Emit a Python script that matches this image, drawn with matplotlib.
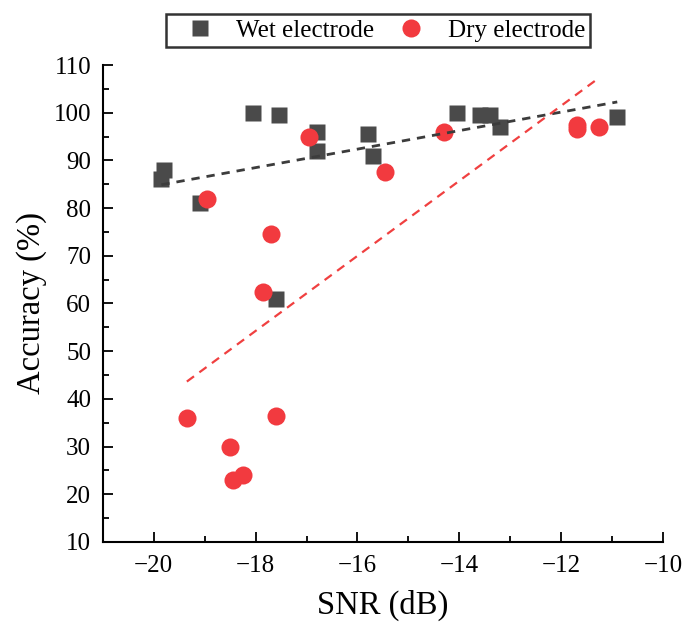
import numpy as np
import matplotlib
matplotlib.use('Agg')
import matplotlib.pyplot as plt

# SNR vs accuracy for the two electrode types
wet_snr = [-19.85, -19.8, -19.1, -18.05, -17.55, -16.8, -16.8, -15.8, -15.7,
           -14.05, -13.6, -13.4, -13.2, -10.9, -17.6]
wet_acc = [86, 88, 81, 100, 99.5, 96, 92, 95.5, 91, 100, 99.5, 99.5, 97, 99, 61]

dry_snr = [-18.95, -16.95, -15.45, -17.7, -17.85, -19.35, -17.6, -18.5, -18.45,
           -18.25, -14.3, -11.7, -11.7, -11.25]
dry_acc = [82, 95, 87.5, 74.5, 62.5, 36, 36.5, 30, 23, 24, 96, 96.5, 97.5, 97]

# linear fit (slope, intercept) for each group
wet_fit = [1.94, 123.4]
dry_fit = [7.87, 195.9]

plt.rcParams['font.family'] = ['Liberation Serif', 'DejaVu Serif']

fig = plt.figure(figsize=(6.9, 6.25), dpi=100)
ax = fig.add_axes([0.149, 0.133, 0.812, 0.763])

wet_col = '#4a4a4a'
dry_col = '#f23a3f'

ax.plot(wet_snr, wet_acc, 's', color=wet_col, markersize=11, mec='none', label='Wet electrode')
ax.plot(dry_snr, dry_acc, 'o', color=dry_col, markersize=13, mec='none', label='Dry electrode')

xw = np.array([min(wet_snr), max(wet_snr)])
ax.plot(xw, wet_fit[0] * xw + wet_fit[1], color='#3c3c3c', lw=2, dashes=(3, 2.5))
xd = np.array([min(dry_snr), max(dry_snr)])
ax.plot(xd, dry_fit[0] * xd + dry_fit[1], color='#f04040', lw=1.6, dashes=(4, 3))

ax.set_xlim(-21, -10)
ax.set_ylim(10, 110)
ax.set_xticks([-20, -18, -16, -14, -12, -10])
ax.set_xticks(np.arange(-21, -9, 1), minor=True)
ax.set_yticks(np.arange(10, 111, 10))
ax.set_yticks(np.arange(15, 110, 10), minor=True)
ax.tick_params(which='major', direction='in', length=7, width=1.3, labelsize=18)
ax.tick_params(which='minor', direction='in', length=4, width=1.3)
ax.tick_params(axis='x', which='major', pad=9.5)
ax.tick_params(axis='y', which='major', pad=8.5)
ax.spines['top'].set_visible(False)
ax.spines['right'].set_visible(False)
ax.spines['left'].set_linewidth(1.5)
ax.spines['bottom'].set_linewidth(1.5)

ax.set_xlabel('SNR (dB)', fontsize=23.5, labelpad=9)
ax.set_ylabel('Accuracy (%)', fontsize=23.5, labelpad=4.5)

leg = ax.legend(loc='lower center', bbox_to_anchor=(0.491, 1.038), ncol=2, fontsize=18,
                frameon=True, fancybox=False, edgecolor='black', handletextpad=0.32,
                columnspacing=0.3, borderpad=0.2, handlelength=2.3, borderaxespad=0)
leg.get_frame().set_linewidth(1.8)

fig.savefig('out.png', dpi=100)
